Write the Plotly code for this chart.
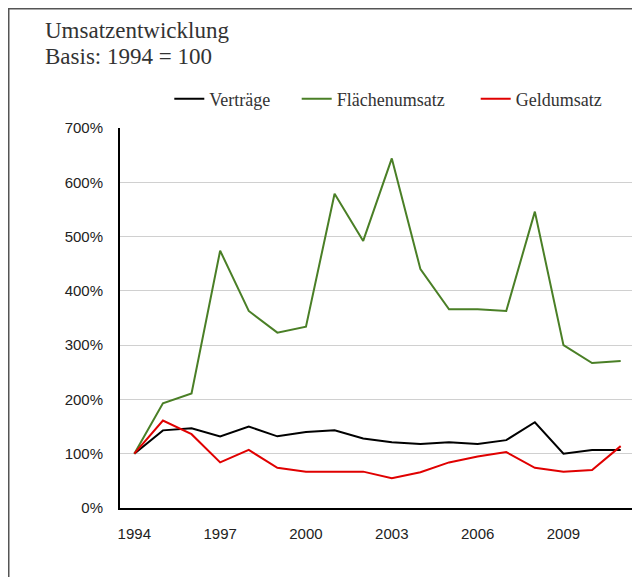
import plotly.graph_objects as go

years = list(range(1994, 2012))
vertraege = [100, 143, 147, 132, 150, 132, 140, 143, 128, 121, 118, 121, 118, 125, 158, 100, 107, 107]
flaechenumsatz = [100, 193, 211, 474, 363, 323, 334, 579, 492, 644, 440, 366, 366, 363, 546, 300, 267, 271]
geldumsatz = [100, 161, 136, 84, 107, 74, 67, 67, 67, 55, 66, 84, 95, 103, 74, 67, 70, 114]

series_names = ["Verträge", "Flächenumsatz", "Geldumsatz"]
series_colors = ["#000000", "#4a7f26", "#e00000"]
tick_years = [1994, 1997, 2000, 2003, 2006, 2009]
y_ticks = [0, 100, 200, 300, 400, 500, 600, 700]
y_labels = [f"{v}%" for v in y_ticks]

# page has an 8px body margin; figure is sized to fill the rest of the viewport
OFF = 8
W, H = 640 - OFF, 577 - OFF
L, R, T, B = 120 - OFF, 5, 128 - OFF, 69
pw, ph = W - L - R, H - T - B

def px(xp):  # page pixel -> paper x
    return (xp - OFF - L) / pw

def py(yp):  # page pixel -> paper y
    return (H - B - (yp - OFF)) / ph

legend_text_x = [209.3, 336.7, 515.7]
legend_keys = ["legend", "legend2", "legend3"]

fig = go.Figure()
for name, vals, col, lg in zip(series_names, [vertraege, flaechenumsatz, geldumsatz], series_colors, legend_keys):
    fig.add_trace(go.Scatter(x=years, y=vals, name=name, mode="lines", legend=lg,
                             line=dict(color=col, width=2)))

legend_font = dict(family="Liberation Serif", size=18, color="#333333")
legends = {}
for lg, tx in zip(legend_keys, legend_text_x):
    legends[lg] = dict(orientation="h", x=px(tx - 40), xanchor="left", y=py(99), yanchor="middle",
                       font=legend_font, bgcolor="rgba(0,0,0,0)")

fig.update_layout(
    width=W, height=H,
    margin=dict(l=L, r=R, t=T, b=B, autoexpand=False),
    paper_bgcolor="white", plot_bgcolor="white",
    showlegend=True,
    **legends,
    xaxis=dict(range=[1993.5, 2011.5], tickmode="array", tickvals=tick_years,
               ticktext=[str(y) for y in tick_years], showgrid=False, zeroline=False,
               showline=True, linecolor="#000000", linewidth=2, ticks="",
               ticklabelstandoff=11,
               tickfont=dict(family="Liberation Sans", size=15, color="#222222")),
    yaxis=dict(range=[0, 700], tickmode="array", tickvals=y_ticks, ticktext=y_labels,
               showgrid=True, gridcolor="#d0d0d0", gridwidth=1, zeroline=False,
               showline=True, linecolor="#000000", linewidth=2, ticks="",
               ticklabelstandoff=12,
               tickfont=dict(family="Liberation Sans", size=15, color="#222222")),
    annotations=[
        dict(text="Umsatzentwicklung", xref="paper", yref="paper",
             x=px(43), y=py(30), xanchor="left", yanchor="middle", align="left",
             showarrow=False, font=dict(family="Liberation Serif", size=23, color="#333333")),
        dict(text="Basis: 1994 = 100", xref="paper", yref="paper",
             x=px(43), y=py(57), xanchor="left", yanchor="middle", align="left",
             showarrow=False, font=dict(family="Liberation Serif", size=23, color="#333333")),
    ],
    shapes=[
        dict(type="line", xref="paper", yref="paper", x0=px(8.75), x1=px(8.75), y0=py(8), y1=py(590),
             line=dict(color="#555555", width=1.5)),
        dict(type="line", xref="paper", yref="paper", x0=px(8), x1=px(650), y0=py(8.75), y1=py(8.75),
             line=dict(color="#555555", width=1.5)),
    ],
)

fig.write_html("out.html")
